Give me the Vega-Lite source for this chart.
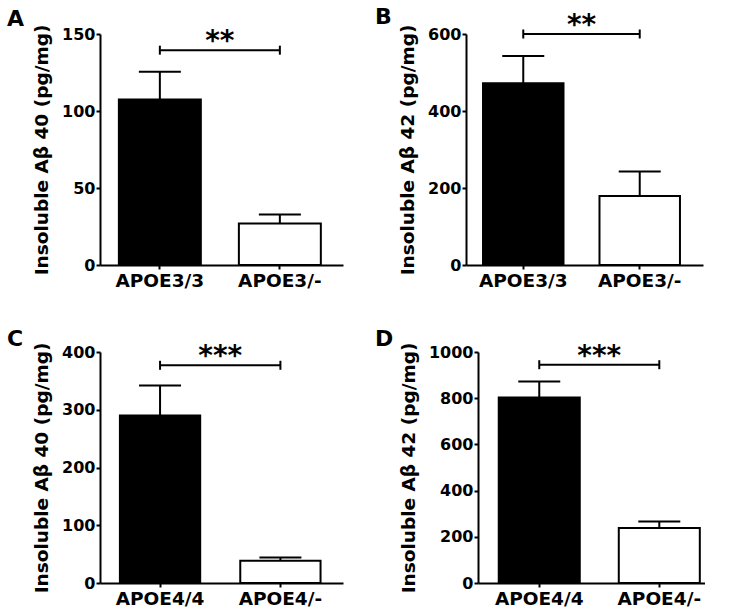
{
  "$schema": "https://vega.github.io/schema/vega-lite/v6.json",
  "padding": {"left": 7, "top": 6, "right": 0, "bottom": 0},
  "datasets": {
    "bars": [
      {"panel": "A", "group": "APOE3/3", "mean": 107.5, "upper": 125.5},
      {"panel": "A", "group": "APOE3/-", "mean": 27, "upper": 32.8},
      {"panel": "B", "group": "APOE3/3", "mean": 472, "upper": 543},
      {"panel": "B", "group": "APOE3/-", "mean": 179, "upper": 243},
      {"panel": "C", "group": "APOE4/4", "mean": 290, "upper": 342},
      {"panel": "C", "group": "APOE4/-", "mean": 38.5, "upper": 44},
      {"panel": "D", "group": "APOE4/4", "mean": 803, "upper": 872},
      {"panel": "D", "group": "APOE4/-", "mean": 238, "upper": 266}
    ],
    "sig": [
      {"panel": "A", "g1": "APOE3/3", "g2": "APOE3/-", "level": 139.5, "stars": "**"},
      {"panel": "B", "g1": "APOE3/3", "g2": "APOE3/-", "level": 600, "stars": "**"},
      {"panel": "C", "g1": "APOE4/4", "g2": "APOE4/-", "level": 377, "stars": "***"},
      {"panel": "D", "g1": "APOE4/4", "g2": "APOE4/-", "level": 945, "stars": "***"}
    ]
  },
  "spacing": 38,
  "vconcat": [
    {
      "spacing": 123,
      "bounds": "flush",
      "hconcat": [
        {
          "width": 243, "height": 231,
          "title": {"text": "A", "anchor": "start", "frame": "group", "dx": -93, "dy": 11},
          "layer": [
            {"data": {"name": "bars"}, "transform": [{"filter": "datum.panel === 'A'"}],
             "mark": {"type": "bar", "stroke": "black", "strokeWidth": 2},
             "encoding": {
               "x": {"field": "group", "type": "nominal", "title": null, "scale": {"domain": ["APOE3/3", "APOE3/-"], "paddingInner": 0.317, "paddingOuter": 0.171, "align": 0.46}},
               "y": {"field": "mean", "type": "quantitative", "title": "Insoluble Aβ 40 (pg/mg)", "scale": {"domain": [0, 150], "nice": false}, "axis": {"values": [0, 50, 100, 150]}},
               "fill": {"field": "group", "type": "nominal", "scale": {"domain": ["APOE3/3", "APOE3/-"], "range": ["black", "white"]}, "legend": null}
             }},
            {"data": {"name": "bars"}, "transform": [{"filter": "datum.panel === 'A'"}],
             "mark": {"type": "rule", "strokeWidth": 2, "color": "black"},
             "encoding": {"x": {"field": "group", "type": "nominal", "title": null}, "y": {"field": "mean", "type": "quantitative", "title": "Insoluble Aβ 40 (pg/mg)"}, "y2": {"field": "upper"}}},
            {"data": {"name": "bars"}, "transform": [{"filter": "datum.panel === 'A'"}],
             "mark": {"type": "tick", "size": 42, "thickness": 2, "color": "black", "opacity": 1},
             "encoding": {"x": {"field": "group", "type": "nominal", "title": null}, "y": {"field": "upper", "type": "quantitative", "title": "Insoluble Aβ 40 (pg/mg)"}}},
            {"data": {"name": "sig"}, "transform": [{"filter": "datum.panel === 'A'"}],
             "mark": {"type": "rule", "strokeWidth": 2, "color": "black"},
             "encoding": {"x": {"field": "g1", "type": "nominal", "title": null}, "x2": {"field": "g2"}, "y": {"field": "level", "type": "quantitative", "title": "Insoluble Aβ 40 (pg/mg)"}}},
            {"data": {"name": "sig"}, "transform": [{"filter": "datum.panel === 'A'"}, {"fold": ["g1", "g2"], "as": ["end", "grp"]}],
             "mark": {"type": "point", "shape": "M0,-1L0,1", "size": 81, "filled": false, "stroke": "black", "strokeWidth": 2, "opacity": 1},
             "encoding": {"x": {"field": "grp", "type": "nominal", "title": null}, "y": {"field": "level", "type": "quantitative", "title": "Insoluble Aβ 40 (pg/mg)"}}},
            {"data": {"name": "sig"}, "transform": [{"filter": "datum.panel === 'A'"}],
             "mark": {"type": "text", "font": "DejaVu Sans", "fontWeight": "bold", "fontSize": 28, "baseline": "alphabetic", "align": "center", "color": "black"},
             "encoding": {"x": {"field": "g1", "type": "nominal", "title": null, "bandPosition": 1.232}, "y": {"field": "level", "type": "quantitative", "title": "Insoluble Aβ 40 (pg/mg)"}, "text": {"field": "stars"}}}
          ]
        },
        {
          "width": 237, "height": 231,
          "title": {"text": "B", "anchor": "start", "frame": "group", "dx": -91, "dy": 21},
          "layer": [
            {"data": {"name": "bars"}, "transform": [{"filter": "datum.panel === 'B'"}],
             "mark": {"type": "bar", "stroke": "black", "strokeWidth": 2},
             "encoding": {
               "x": {"field": "group", "type": "nominal", "title": null, "scale": {"domain": ["APOE3/3", "APOE3/-"], "paddingInner": 0.309, "paddingOuter": 0.172, "align": 0.425}},
               "y": {"field": "mean", "type": "quantitative", "title": "Insoluble Aβ 42 (pg/mg)", "scale": {"domain": [0, 600], "nice": false}, "axis": {"values": [0, 200, 400, 600]}},
               "fill": {"field": "group", "type": "nominal", "scale": {"domain": ["APOE3/3", "APOE3/-"], "range": ["black", "white"]}, "legend": null}
             }},
            {"data": {"name": "bars"}, "transform": [{"filter": "datum.panel === 'B'"}],
             "mark": {"type": "rule", "strokeWidth": 2, "color": "black"},
             "encoding": {"x": {"field": "group", "type": "nominal", "title": null}, "y": {"field": "mean", "type": "quantitative", "title": "Insoluble Aβ 42 (pg/mg)"}, "y2": {"field": "upper"}}},
            {"data": {"name": "bars"}, "transform": [{"filter": "datum.panel === 'B'"}],
             "mark": {"type": "tick", "size": 42, "thickness": 2, "color": "black", "opacity": 1},
             "encoding": {"x": {"field": "group", "type": "nominal", "title": null}, "y": {"field": "upper", "type": "quantitative", "title": "Insoluble Aβ 42 (pg/mg)"}}},
            {"data": {"name": "sig"}, "transform": [{"filter": "datum.panel === 'B'"}],
             "mark": {"type": "rule", "strokeWidth": 2, "color": "black"},
             "encoding": {"x": {"field": "g1", "type": "nominal", "title": null}, "x2": {"field": "g2"}, "y": {"field": "level", "type": "quantitative", "title": "Insoluble Aβ 42 (pg/mg)"}}},
            {"data": {"name": "sig"}, "transform": [{"filter": "datum.panel === 'B'"}, {"fold": ["g1", "g2"], "as": ["end", "grp"]}],
             "mark": {"type": "point", "shape": "M0,-1L0,1", "size": 81, "filled": false, "stroke": "black", "strokeWidth": 2, "opacity": 1},
             "encoding": {"x": {"field": "grp", "type": "nominal", "title": null}, "y": {"field": "level", "type": "quantitative", "title": "Insoluble Aβ 42 (pg/mg)"}}},
            {"data": {"name": "sig"}, "transform": [{"filter": "datum.panel === 'B'"}],
             "mark": {"type": "text", "font": "DejaVu Sans", "fontWeight": "bold", "fontSize": 28, "baseline": "alphabetic", "align": "center", "color": "black"},
             "encoding": {"x": {"field": "g1", "type": "nominal", "title": null, "bandPosition": 1.224}, "y": {"field": "level", "type": "quantitative", "title": "Insoluble Aβ 42 (pg/mg)"}, "text": {"field": "stars"}}}
          ]
        }
      ]
    },
    {
      "spacing": 135,
      "bounds": "flush",
      "hconcat": [
        {
          "width": 243, "height": 231,
          "title": {"text": "C", "anchor": "start", "frame": "group", "dx": -93, "dy": 13},
          "layer": [
            {"data": {"name": "bars"}, "transform": [{"filter": "datum.panel === 'C'"}],
             "mark": {"type": "bar", "stroke": "black", "strokeWidth": 2},
             "encoding": {
               "x": {"field": "group", "type": "nominal", "title": null, "scale": {"domain": ["APOE4/4", "APOE4/-"], "paddingInner": 0.333, "paddingOuter": 0.176, "align": 0.47}},
               "y": {"field": "mean", "type": "quantitative", "title": "Insoluble Aβ 40 (pg/mg)", "scale": {"domain": [0, 400], "nice": false}, "axis": {"values": [0, 100, 200, 300, 400]}},
               "fill": {"field": "group", "type": "nominal", "scale": {"domain": ["APOE4/4", "APOE4/-"], "range": ["black", "white"]}, "legend": null}
             }},
            {"data": {"name": "bars"}, "transform": [{"filter": "datum.panel === 'C'"}],
             "mark": {"type": "rule", "strokeWidth": 2, "color": "black"},
             "encoding": {"x": {"field": "group", "type": "nominal", "title": null}, "y": {"field": "mean", "type": "quantitative", "title": "Insoluble Aβ 40 (pg/mg)"}, "y2": {"field": "upper"}}},
            {"data": {"name": "bars"}, "transform": [{"filter": "datum.panel === 'C'"}],
             "mark": {"type": "tick", "size": 42, "thickness": 2, "color": "black", "opacity": 1},
             "encoding": {"x": {"field": "group", "type": "nominal", "title": null}, "y": {"field": "upper", "type": "quantitative", "title": "Insoluble Aβ 40 (pg/mg)"}}},
            {"data": {"name": "sig"}, "transform": [{"filter": "datum.panel === 'C'"}],
             "mark": {"type": "rule", "strokeWidth": 2, "color": "black"},
             "encoding": {"x": {"field": "g1", "type": "nominal", "title": null}, "x2": {"field": "g2"}, "y": {"field": "level", "type": "quantitative", "title": "Insoluble Aβ 40 (pg/mg)"}}},
            {"data": {"name": "sig"}, "transform": [{"filter": "datum.panel === 'C'"}, {"fold": ["g1", "g2"], "as": ["end", "grp"]}],
             "mark": {"type": "point", "shape": "M0,-1L0,1", "size": 81, "filled": false, "stroke": "black", "strokeWidth": 2, "opacity": 1},
             "encoding": {"x": {"field": "grp", "type": "nominal", "title": null}, "y": {"field": "level", "type": "quantitative", "title": "Insoluble Aβ 40 (pg/mg)"}}},
            {"data": {"name": "sig"}, "transform": [{"filter": "datum.panel === 'C'"}],
             "mark": {"type": "text", "font": "DejaVu Sans", "fontWeight": "bold", "fontSize": 28, "baseline": "alphabetic", "align": "center", "color": "black"},
             "encoding": {"x": {"field": "g1", "type": "nominal", "title": null, "bandPosition": 1.25}, "y": {"field": "level", "type": "quantitative", "title": "Insoluble Aβ 40 (pg/mg)"}, "text": {"field": "stars"}}}
          ]
        },
        {
          "width": 227, "height": 231,
          "title": {"text": "D", "anchor": "start", "frame": "group", "dx": -103, "dy": 13},
          "layer": [
            {"data": {"name": "bars"}, "transform": [{"filter": "datum.panel === 'D'"}],
             "mark": {"type": "bar", "stroke": "black", "strokeWidth": 2},
             "encoding": {
               "x": {"field": "group", "type": "nominal", "title": null, "scale": {"domain": ["APOE4/4", "APOE4/-"], "paddingInner": 0.325, "paddingOuter": 0.108, "align": 0.8}},
               "y": {"field": "mean", "type": "quantitative", "title": "Insoluble Aβ 42 (pg/mg)", "scale": {"domain": [0, 1000], "nice": false}, "axis": {"values": [0, 200, 400, 600, 800, 1000], "format": "d"}},
               "fill": {"field": "group", "type": "nominal", "scale": {"domain": ["APOE4/4", "APOE4/-"], "range": ["black", "white"]}, "legend": null}
             }},
            {"data": {"name": "bars"}, "transform": [{"filter": "datum.panel === 'D'"}],
             "mark": {"type": "rule", "strokeWidth": 2, "color": "black"},
             "encoding": {"x": {"field": "group", "type": "nominal", "title": null}, "y": {"field": "mean", "type": "quantitative", "title": "Insoluble Aβ 42 (pg/mg)"}, "y2": {"field": "upper"}}},
            {"data": {"name": "bars"}, "transform": [{"filter": "datum.panel === 'D'"}],
             "mark": {"type": "tick", "size": 42, "thickness": 2, "color": "black", "opacity": 1},
             "encoding": {"x": {"field": "group", "type": "nominal", "title": null}, "y": {"field": "upper", "type": "quantitative", "title": "Insoluble Aβ 42 (pg/mg)"}}},
            {"data": {"name": "sig"}, "transform": [{"filter": "datum.panel === 'D'"}],
             "mark": {"type": "rule", "strokeWidth": 2, "color": "black"},
             "encoding": {"x": {"field": "g1", "type": "nominal", "title": null}, "x2": {"field": "g2"}, "y": {"field": "level", "type": "quantitative", "title": "Insoluble Aβ 42 (pg/mg)"}}},
            {"data": {"name": "sig"}, "transform": [{"filter": "datum.panel === 'D'"}, {"fold": ["g1", "g2"], "as": ["end", "grp"]}],
             "mark": {"type": "point", "shape": "M0,-1L0,1", "size": 81, "filled": false, "stroke": "black", "strokeWidth": 2, "opacity": 1},
             "encoding": {"x": {"field": "grp", "type": "nominal", "title": null}, "y": {"field": "level", "type": "quantitative", "title": "Insoluble Aβ 42 (pg/mg)"}}},
            {"data": {"name": "sig"}, "transform": [{"filter": "datum.panel === 'D'"}],
             "mark": {"type": "text", "font": "DejaVu Sans", "fontWeight": "bold", "fontSize": 28, "baseline": "alphabetic", "align": "center", "color": "black"},
             "encoding": {"x": {"field": "g1", "type": "nominal", "title": null, "bandPosition": 1.24}, "y": {"field": "level", "type": "quantitative", "title": "Insoluble Aβ 42 (pg/mg)"}, "text": {"field": "stars"}}}
          ]
        }
      ]
    }
  ],
  "config": {
    "view": {"stroke": null},
    "font": "DejaVu Sans",
    "axis": {"domainColor": "black", "domainWidth": 2, "tickColor": "black", "tickWidth": 2, "tickSize": 4, "grid": false, "labelColor": "black", "labelFont": "DejaVu Sans", "labelFontWeight": "bold", "titleFont": "DejaVu Sans", "titleFontWeight": "bold", "titleColor": "black"},
    "axisX": {"labelFontSize": 18.5, "labelPadding": 2, "labelAngle": 0},
    "axisY": {"labelFontSize": 16, "labelPadding": 1, "titleFontSize": 18.5, "titlePadding": 10},
    "title": {"font": "DejaVu Sans", "fontWeight": "bold", "fontSize": 22, "color": "black"}
  }
}
